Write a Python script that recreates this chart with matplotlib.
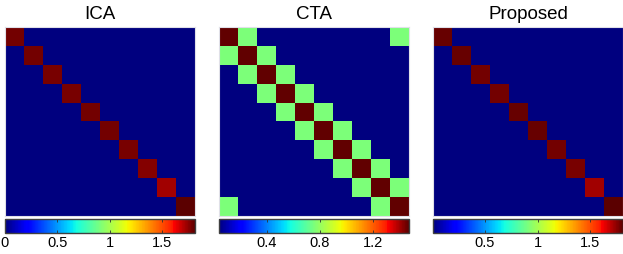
import numpy as np
import matplotlib
matplotlib.use("Agg")
import matplotlib.pyplot as plt
from matplotlib.colors import ListedColormap

plt.rcParams['font.family'] = ['Liberation Sans', 'DejaVu Sans']

n = 10
titles = ["ICA", "CTA", "Proposed"]

ica_diag = [1.78, 1.78, 1.77, 1.77, 1.78, 1.78, 1.77, 1.76, 1.72, 1.81]
ica_off = 0.0
prop_diag = [1.79, 1.79, 1.78, 1.78, 1.79, 1.79, 1.78, 1.77, 1.72, 1.81]
prop_off = 0.01
cta_diag = 1.46
cta_neighbour = 0.76
cta_off = 0.04

ranges = [(0.0, 1.81), (0.04, 1.47), (0.01, 1.81)]
ticks = [[0, 0.5, 1, 1.5], [0.4, 0.8, 1.2], [0.5, 1, 1.5]]
ticklabels = [["0", "0.5", "1", "1.5"], ["0.4", "0.8", "1.2"], ["0.5", "1", "1.5"]]

ica = np.full((n, n), ica_off)
np.fill_diagonal(ica, ica_diag)
prop = np.full((n, n), prop_off)
np.fill_diagonal(prop, prop_diag)
cta = np.full((n, n), cta_off)
for i in range(n):
    cta[i, i] = cta_diag
    cta[i, (i + 1) % n] = cta_neighbour
    cta[i, (i - 1) % n] = cta_neighbour
mats = [ica, cta, prop]

# jet with a darker red end, as in the picture
xs = np.linspace(0, 1, 256)
cols = plt.get_cmap("jet")(xs)
top = xs > 0.89
cols[top, 0] = 1 - (xs[top] - 0.89) / 0.11 * (1 - 0.36)
cols[top, 1] = 0
cols[top, 2] = 0
cmap = ListedColormap(cols)

W, H = 623, 254
fig = plt.figure(figsize=(W / 100, H / 100), dpi=100)
lefts = [5, 219, 433]
for k in range(3):
    x0 = lefts[k] / W
    w = 190 / W
    ax = fig.add_axes([x0, 1 - 216 / H, w, 189 / H])
    im = ax.imshow(mats[k], cmap=cmap, vmin=ranges[k][0], vmax=ranges[k][1],
                   interpolation="nearest", aspect="auto")
    ax.set_xticks([])
    ax.set_yticks([])
    for s in ax.spines.values():
        s.set_color("#e0e0e8")
        s.set_linewidth(0.8)
    fig.text(x0 + w / 2, 1 - 19 / H, titles[k], ha="center", va="baseline", fontsize=13.5)

    cax = fig.add_axes([x0, 1 - 233 / H, w, 14 / H])
    cb = fig.colorbar(im, cax=cax, orientation="horizontal")
    cb.set_ticks(ticks[k])
    cb.set_ticklabels(ticklabels[k])
    cb.outline.set_edgecolor("#404040")
    cb.outline.set_linewidth(1.0)
    cax.tick_params(axis="x", direction="in", length=2.5, width=0.6, color="#303030",
                    top=True, labelsize=10.5, pad=2)

fig.savefig("out.png", dpi=100)
